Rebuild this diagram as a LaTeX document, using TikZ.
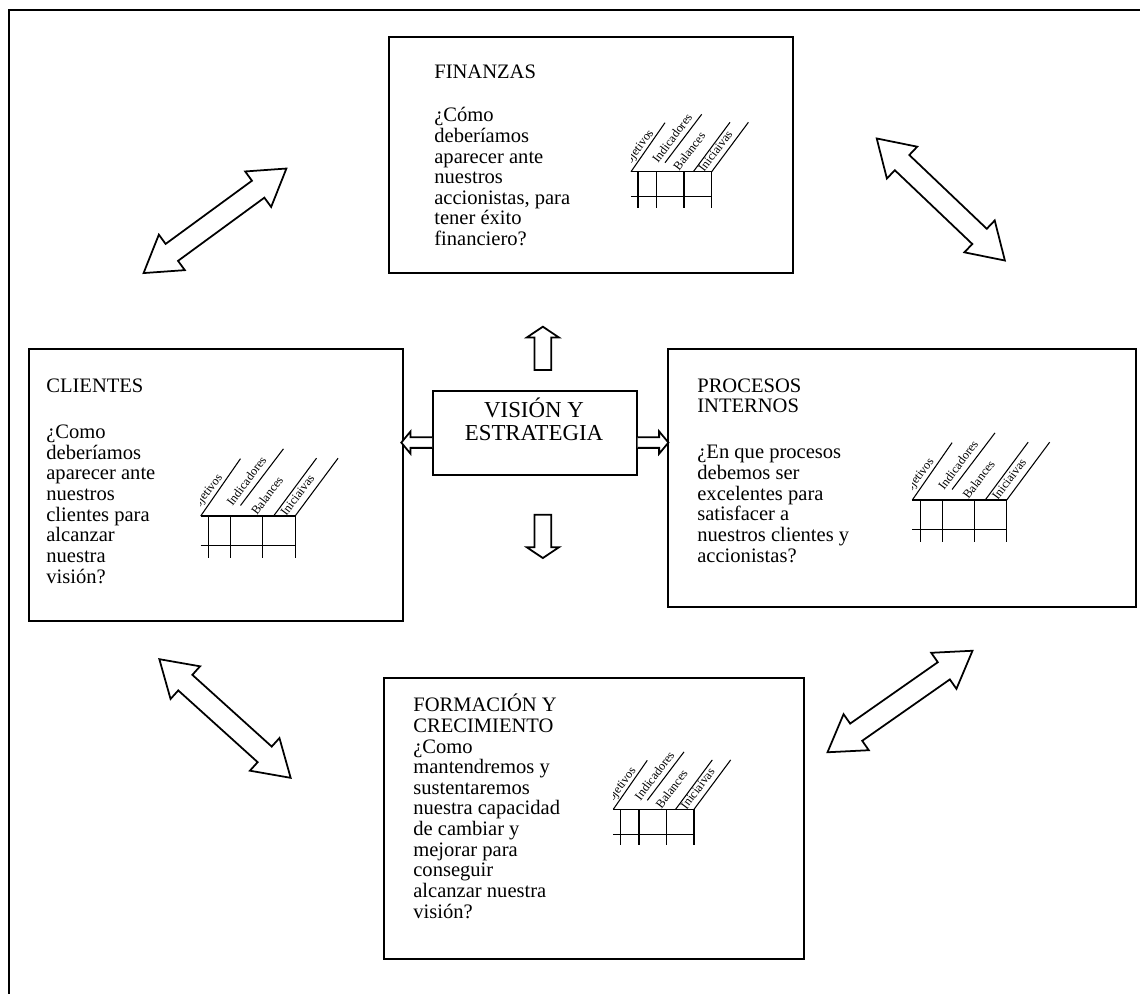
\documentclass[tikz,border=0pt]{standalone}
\usepackage{fontspec}
\setmainfont{Liberation Serif}
\usetikzlibrary{calc}

\newcommand{\txtsize}{\fontsize{11.7}{11.73}\selectfont}

\begin{document}
\begin{tikzpicture}[
            x=0.02cm, y=-0.02cm,
            frame/.style={line width=1.4pt},
            panel/.style={draw, line width=1pt, inner sep=0pt, anchor=north west},
            blocktext/.style={anchor=base west, align=left, inner sep=0pt, font=\txtsize},
            hollow/.style={draw, fill=white, line width=1pt, line join=miter},
            grid line/.style={line width=0.6pt},
            column/.style={anchor=base west, rotate=53, inner sep=0pt, font=\fontsize{7}{7}\selectfont},
            scorecard/.pic={
                \begin{scope}
                    \clip (0,20) rectangle (60,-80);
                    \node[column] (-obj) at (-6,0) {Objetivos};
                \end{scope}
                \node[column] (-ind) at (27,-8) {Indicadores};
                \node[column] (-bal) at (48,0) {Balances};
                \node[column] (-ini) at (73,1) {Iniciaivas};
                \draw[grid line] (0,0) -- (80.7,0) (0,25) -- (80.7,25);
                \foreach \Col in {7, 25.7, 53, 80.7}
                    \draw[grid line] (\Col,0) -- (\Col,36);
                \draw[grid line] (0,0) -- +(34,-49) (34,-9) -- +(36.7,-48.4)
                    (62.3,0) -- +(36.7,-49.4) (80.7,0) -- +(36.7,-49.4);
            }
        ]
        \useasboundingbox (0,0) rectangle (1140,994);
        \draw[frame] (1140,10) -- (9,10) -- (9,994);

        % the four perspectives and the centre
        \node[panel, minimum width=8.08cm, minimum height=4.72cm] (fin) at (388,36) {};
        \node[panel, minimum width=7.48cm, minimum height=5.44cm] (cli) at (28,348) {};
        \node[panel, minimum width=9.36cm, minimum height=5.16cm] (proc) at (667,348) {};
        \node[panel, minimum width=8.4cm, minimum height=5.62cm] (form) at (383,677) {};
        \node[panel, minimum width=4.08cm, minimum height=1.68cm] (vis) at (432,390) {};

        % base anchors sit on the last line of each block
        \node[anchor=base, align=center, inner sep=0pt, font=\fontsize{13}{13.04}\selectfont]
            (visText) at (534,440) {VISIÓN Y\\ESTRATEGIA};

        \node[blocktext] (finTitle) at (434,78.5) {FINANZAS};
        \node[blocktext] (finText) at (434,245.5)
            {¿Cómo\\deberíamos\\aparecer ante\\nuestros\\accionistas, para\\tener éxito\\financiero?};

        \node[blocktext] (cliTitle) at (46,392) {CLIENTES};
        \node[blocktext] (cliText) at (46,583)
            {¿Como\\deberíamos\\aparecer ante\\nuestros\\clientes para\\alcanzar\\nuestra\\visión?};

        \node[blocktext] (procTitle) at (697,412.7) {PROCESOS\\INTERNOS};
        \node[blocktext] (procText) at (697,562)
            {¿En que procesos\\debemos ser\\excelentes para\\satisfacer a\\nuestros clientes y\\accionistas?};

        \node[blocktext] (formText) at (413,918)
            {FORMACIÓN Y\\CRECIMIENTO\\¿Como\\mantendremos y\\sustentaremos\\nuestra capacidad\\de cambiar y\\mejorar para\\conseguir\\alcanzar nuestra\\visión?};

        \pic (finCard) at (631,171.7) {scorecard};
        \pic (formCard) at (613.3,809.3) {scorecard};
        \pic[scale=1.17] (cliCard) at (200.7,516) {scorecard};
        \pic[scale=1.17] (procCard) at (912.3,500) {scorecard};

        % links between the perspectives
        \foreach \Cx/\Cy/\Angle in {215/220.8/36.2, 940.8/199.5/-43.6, 225/718.5/-42.1, 900/701.5/35}
            \draw[hollow, shift={(\Cx,\Cy)}, rotate=\Angle]
                (-88.5,0) -- (-53.5,-22) -- (-53.5,-10.5) -- (53.5,-10.5) -- (53.5,-22) -- (88.5,0)
                -- (53.5,22) -- (53.5,10.5) -- (-53.5,10.5) -- (-53.5,22) -- cycle;

        % arrows out of the vision box
        \draw[hollow, shift={($(vis.north)+(8,-20)$)}]
            (-8.3,0) -- (-8.3,-32.6) -- (-16,-32.6) -- (0,-43.3) -- (16,-32.6) -- (8.3,-32.6) -- (8.3,0) -- cycle;
        \draw[hollow, shift={($(vis.south)+(8,39)$)}]
            (-8.3,0) -- (-8.3,32.6) -- (-16,32.6) -- (0,43.3) -- (16,32.6) -- (8.3,32.6) -- (8.3,0) -- cycle;
        \draw[hollow, shift={($(vis.east)+(0,9.7)$)}]
            (0,-5.3) -- (21.4,-5.3) -- (21.4,-11.2) -- (30.7,0) -- (21.4,11.2) -- (21.4,5.3) -- (0,5.3);
        \draw[hollow, shift={($(vis.west)+(0,9.7)$)}]
            (0,-5.3) -- (-21.4,-5.3) -- (-21.4,-11.2) -- (-30.7,0) -- (-21.4,11.2) -- (-21.4,5.3) -- (0,5.3);
    \end{tikzpicture}
\end{document}
